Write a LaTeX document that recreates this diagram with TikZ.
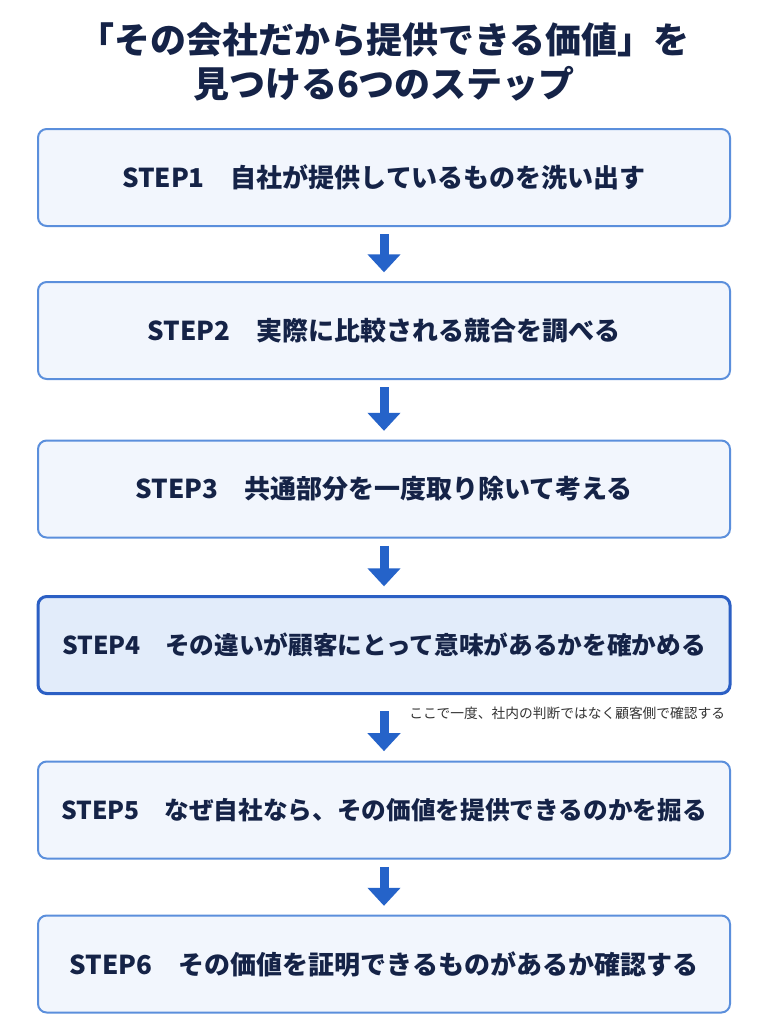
\documentclass[tikz,border=0pt]{standalone}
\usepackage{fontspec}
\setmainfont{Noto Sans CJK JP}
\usetikzlibrary{arrows.meta}
\definecolor{navy}{HTML}{152347}
\definecolor{boxline}{HTML}{5B8FDC}
\definecolor{boxfill}{HTML}{F2F6FD}
\definecolor{hiline}{HTML}{2B5FC4}
\definecolor{hifill}{HTML}{E2ECFA}
\definecolor{arrowblue}{HTML}{2563C9}
\definecolor{notegray}{HTML}{333333}
\tikzset{
  stepbox/.style={draw=boxline, line width=1.5pt, fill=boxfill, rounded corners=6.5pt,
    minimum width=519pt, minimum height=72.75pt, inner sep=0pt,
    text=navy, font=\fontsize{19.5}{23}\selectfont\bfseries},
  longstep/.style={font=\fontsize{18.5}{22}\selectfont\bfseries},
  hibox/.style={stepbox, draw=hiline, line width=2.25pt, fill=hifill},
  titletext/.style={text=navy, font=\fontsize{27}{32}\selectfont\bfseries, inner sep=0pt},
  flow/.style={draw=arrowblue, line width=6.75pt, -{Triangle[width=24pt,length=13.5pt]}},
  notetext/.style={text=notegray, font=\fontsize{10.3}{12}\selectfont, inner sep=0pt, anchor=west}
}
\begin{document}
\begin{tikzpicture}[x=0.75pt,y=-0.75pt]
\useasboundingbox[fill=white] (0,0) rectangle (768,1024);
\node[titletext] (t1) at (384,40) {「その会社だから提供できる価値」を};
\node[titletext] (t2) at (384,84) {見つける6つのステップ};

\node[stepbox] (s1) at (384,177.5) {STEP1\hspace{1em}自社が提供しているものを洗い出す};
\node[stepbox] (s2) at (384,330.5) {STEP2\hspace{1em}実際に比較される競合を調べる};
\node[stepbox] (s3) at (384,489) {STEP3\hspace{1em}共通部分を一度取り除いて考える};
\node[hibox, longstep] (s4) at (384,645) {STEP4\hspace{1em}その違いが顧客にとって意味があるかを確かめる};
\node[stepbox, longstep] (s5) at (384,810) {STEP5\hspace{1em}なぜ自社なら、その価値を提供できるのかを掘る};
\node[stepbox] (s6) at (384,964) {STEP6\hspace{1em}その価値を証明できるものがあるか確認する};

\node[notetext] (note) at (409,713) {ここで一度、社内の判断ではなく顧客側で確認する};

\draw[flow, shorten <=5.5pt, shorten >=6.5pt] (s1.south) -- (s2.north);
\draw[flow, shorten <=5.5pt, shorten >=6.5pt] (s2.south) -- (s3.north);
\draw[flow, shorten <=5.5pt, shorten >=6.5pt] (s3.south) -- (s4.north);
\draw[flow, shorten <=12pt, shorten >=7pt] (s4.south) -- (s5.north);
\draw[flow, shorten <=5.5pt, shorten >=6.5pt] (s5.south) -- (s6.north);
\end{tikzpicture}
\end{document}
